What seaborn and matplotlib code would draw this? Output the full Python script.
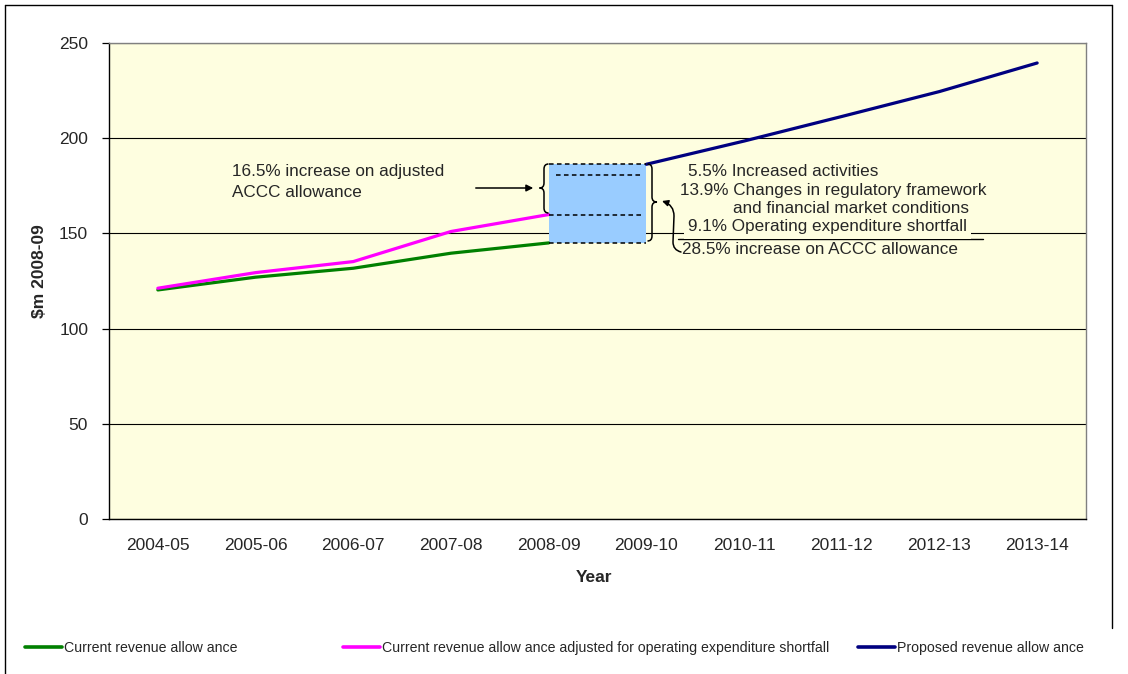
import numpy as np
import pandas as pd
import matplotlib
matplotlib.use("Agg")
import matplotlib.pyplot as plt
from matplotlib.path import Path
from matplotlib.patches import PathPatch, FancyArrowPatch, Rectangle
from matplotlib.lines import Line2D
import seaborn as sns

# ---- data -------------------------------------------------------------
years = ["2004-05", "2005-06", "2006-07", "2007-08", "2008-09",
         "2009-10", "2010-11", "2011-12", "2012-13", "2013-14"]
current = [120.3, 127.0, 131.7, 139.6, 145.0]
adjusted = [121.2, 129.4, 135.2, 151.0, 159.9]
proposed = [186.3, 198.5, 211.4, 224.5, 239.5]
# split levels inside the shaded step between 2008-09 and 2009-10
step_levels = [145.0, 159.9, 180.5, 186.3]

series_names = ["Current revenue allowance",
                "Current revenue allowance adjusted for operating expenditure shortfall",
                "Proposed revenue allowance"]
legend_labels = ["Current revenue allow ance",
                 "Current revenue allow ance adjusted for operating expenditure shortfall",
                 "Proposed revenue allow ance"]
colors = ["#008000", "#FF00FF", "#000080"]

rows = []
for i, v in enumerate(current):
    rows.append((i, v, series_names[0]))
for i, v in enumerate(adjusted):
    rows.append((i, v, series_names[1]))
for i, v in enumerate(proposed):
    rows.append((i + 5, v, series_names[2]))
df = pd.DataFrame(rows, columns=["idx", "value", "series"])

# ---- figure -----------------------------------------------------------
sns.set_style("white")
plt.rcParams["font.family"] = ["Liberation Sans", "DejaVu Sans"]

W, H = 1128, 674
fig = plt.figure(figsize=(W / 100, H / 100), dpi=100)
fig.patch.set_facecolor("white")

def fx(x):
    return x / W

def fy(y):
    return 1 - y / H

L, R, T, B = 109, 1086, 43, 519
ax = fig.add_axes([fx(L), fy(B), fx(R) - fx(L), fy(T) - fy(B)])
ax.set_facecolor("#FEFEE0")

sns.lineplot(data=df, x="idx", y="value", hue="series", palette=colors,
             hue_order=series_names, linewidth=2.3, ax=ax, legend=False,
             sort=False)

ax.set_xlim(-0.5, 9.5)
ax.set_ylim(0, 250)
ax.set_yticks([0, 50, 100, 150, 200, 250])
ax.yaxis.grid(True, color="black", linewidth=0.8)
ax.set_axisbelow(True)
ax.set_xticks(np.arange(10))
ax.set_xticklabels(years, fontsize=12.5)
ax.set_xticks(np.arange(-0.5, 10, 1), minor=True)
ax.tick_params(axis="x", which="major", length=0, pad=14)
ax.tick_params(axis="x", which="minor", length=5, width=0.9, direction="out", color="black")
ax.tick_params(axis="y", length=5, width=0.9, direction="out", color="black",
               labelsize=12.5, pad=10, left=True)
ax.set_xlabel("")
ax.set_ylabel("")
for side in ["left", "bottom"]:
    ax.spines[side].set_color("black")
    ax.spines[side].set_linewidth(1.0)
for side in ["top", "right"]:
    ax.spines[side].set_color("#808080")
    ax.spines[side].set_linewidth(1.0)

# shaded step from 2008-09 to 2009-10
ax.add_patch(Rectangle((4, step_levels[0]), 1, step_levels[3] - step_levels[0],
                       facecolor="#99CCFF", edgecolor="none", zorder=1.5))
dash = (0, (3, 2.2))
ax.plot([4, 5], [step_levels[3]] * 2, color="black", lw=1.1, ls=dash, zorder=3)
ax.plot([4, 5], [step_levels[0]] * 2, color="black", lw=1.1, ls=dash, zorder=3)
ax.plot([4.08, 4.96], [step_levels[2]] * 2, color="black", lw=1.1, ls=dash, zorder=3)
ax.plot([4.0, 4.96], [step_levels[1]] * 2, color="black", lw=1.1, ls=dash, zorder=3)

# ---- braces and arrows (figure pixel coordinates) ----------------------
def brace(x_body, y0, y1, ym, tip, end, lw=1.1):
    r = 5
    verts = [(end, y0), (x_body, y0), (x_body, y0 + r),
             (x_body, ym - r),
             (x_body, ym), (tip, ym),
             (x_body, ym), (x_body, ym + r),
             (x_body, y1 - r),
             (x_body, y1), (end, y1)]
    codes = [Path.MOVETO, Path.CURVE3, Path.CURVE3,
             Path.LINETO,
             Path.CURVE3, Path.CURVE3,
             Path.CURVE3, Path.CURVE3,
             Path.LINETO,
             Path.CURVE3, Path.CURVE3]
    verts = [(fx(a), fy(b)) for a, b in verts]
    fig.patches.append(PathPatch(Path(verts, codes), facecolor="none",
                                 edgecolor="black", lw=lw,
                                 transform=fig.transFigure, zorder=5))

brace(544, 164, 213, 188, 539.5, 548.5)
brace(652, 164, 241, 202, 657, 647.5)

fig.patches.append(FancyArrowPatch((fx(473), fy(188)), (fx(536), fy(188)),
                                   transform=fig.transFigure, arrowstyle="-|>",
                                   mutation_scale=10, lw=1.1, color="black"))

hook = Path([(fx(681), fy(252)), (fx(673), fy(250)), (fx(673), fy(242)),
             (fx(674), fy(216)),
             (fx(674), fy(205)), (fx(662), fy(201))],
            [Path.MOVETO, Path.CURVE3, Path.CURVE3, Path.LINETO,
             Path.CURVE3, Path.CURVE3])
fig.patches.append(FancyArrowPatch(path=hook, transform=fig.transFigure,
                                   arrowstyle="-|>", mutation_scale=9,
                                   lw=1.1, color="black"))

# ---- annotation text -------------------------------------------------
fs = 12.3
fig.text(fx(232), fy(172), "16.5% increase on adjusted", fontsize=fs, va="center")
fig.text(fx(232), fy(193), "ACCC allowance", fontsize=fs, va="center")
fig.text(fx(688), fy(172), "5.5% Increased activities", fontsize=fs, va="center")
fig.text(fx(680), fy(191), "13.9% Changes in regulatory framework", fontsize=fs, va="center")
fig.text(fx(733), fy(208.5), "and financial market conditions", fontsize=fs, va="center")
fig.text(fx(688), fy(227), "9.1% Operating expenditure shortfall", fontsize=fs, va="center",
         bbox=dict(facecolor="#FEFEE0", edgecolor="none", pad=3))
fig.add_artist(Line2D([fx(678), fx(983)], [fy(239), fy(239)], color="black", lw=1.0))
fig.text(fx(682), fy(250), "28.5% increase on ACCC allowance", fontsize=fs, va="center")

# ---- axis titles --------------------------------------------------------
fig.text(fx(39), fy(271), "$m 2008-09", fontsize=12.5, fontweight="bold",
         rotation=90, ha="center", va="center")
fig.text(fx(594), fy(578), "Year", fontsize=12.5, fontweight="bold",
         ha="center", va="center")

# ---- legend: one entry per block along the bottom -----------------------
legend_x = [25, 343, 858]
for x0, c, lab in zip(legend_x, colors, legend_labels):
    fig.legend([Line2D([], [], color=c, lw=2.6)], [lab], loc="center left",
               bbox_to_anchor=(fx(x0), fy(648)), frameon=False,
               borderpad=0, borderaxespad=0, handlelength=2.6,
               handletextpad=0.15, fontsize=10.2)

# chart area frame: left edge runs the full height, right edge stops above the legend
frame = dict(color="black", lw=1.0)
fig.add_artist(Line2D([fx(5), fx(5)], [fy(5), fy(700)], **frame))
fig.add_artist(Line2D([fx(5), fx(1112)], [fy(5), fy(5)], **frame))
fig.add_artist(Line2D([fx(1112), fx(1112)], [fy(5), fy(628)], **frame))

fig.savefig("out.png", dpi=100)
